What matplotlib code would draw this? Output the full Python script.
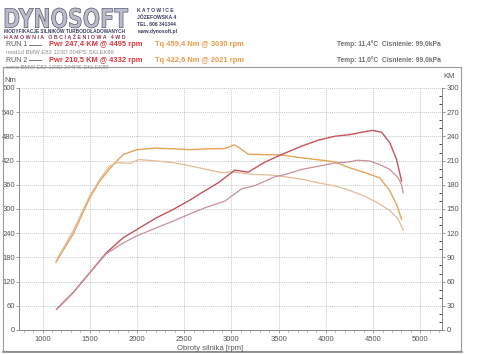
import matplotlib

matplotlib.use("Agg")
import matplotlib.pyplot as plt
from matplotlib.patches import PathPatch, Rectangle
from matplotlib.textpath import TextPath
from matplotlib.font_manager import FontProperties
from matplotlib.transforms import Affine2D
from matplotlib.lines import Line2D

# RUN 1 (mod1d) torque [Nm] and power [KM]
run1_tq_rpm = [1141, 1324, 1500, 1607, 1748, 1854, 1995, 2207, 2400, 2560, 2719, 2930,
               3030, 3089, 3177, 3319, 3531, 3707, 3919, 4095, 4254, 4431, 4572, 4678,
               4749, 4802]
run1_tq = [168, 238, 328, 370, 410, 435, 447, 451, 449, 447, 449, 450,
           459, 451, 436, 435, 434, 428, 422, 417, 402, 389, 377, 345,
           311, 275]
run1_pw_rpm = [1148, 1324, 1500, 1677, 1854, 2030, 2207, 2383, 2560, 2684, 2860, 3036,
               3177, 3354, 3531, 3743, 3919, 4095, 4254, 4395, 4495, 4590, 4678, 4749,
               4802]
run1_pw = [25.7, 46.4, 71.1, 95.9, 114.4, 126.8, 139.2, 149.4, 161.1, 170.1, 182.5, 198.2,
           195.7, 208.1, 217.5, 227.9, 235.3, 240.2, 242.2, 245.5, 247.4, 245.2, 231.9, 211.3,
           184.6]

# RUN 2 (seria)
run2_tq_rpm = [1155, 1324, 1500, 1607, 1713, 1800, 1924, 2021, 2207, 2383, 2560, 2719,
               2896, 3001, 3213, 3425, 3566, 3743, 3919, 4095, 4219, 4395, 4537, 4678,
               4766, 4819]
run2_tq = [177, 246, 333, 374, 407, 415, 413, 422.6, 419, 415, 407, 399,
           390, 392, 386, 384, 380, 374, 365, 357, 349, 333, 317, 296,
           275, 247]
run2_pw_rpm = [1148, 1324, 1500, 1677, 1748, 1854, 1995, 2207, 2383, 2560, 2719, 2930,
               3107, 3248, 3460, 3566, 3743, 3919, 4095, 4254, 4332, 4466, 4572, 4678,
               4766, 4802, 4819]
run2_pw = [25.7, 46.4, 71.0, 95.0, 100, 108, 116.5, 126.8, 135, 144, 151.5, 159.8,
           175, 179, 190, 192.7, 199, 203, 207, 208.5, 210.5, 209.5, 205, 199,
           188.6, 180, 170]

W, H = 500, 354
C_PW1, C_PW2 = "#c4545a", "#c99098"
C_TQ1, C_TQ2 = "#e8a35a", "#e2bb98"
FONT = "Liberation Sans"


def fx(x):
    return x / W


def fy(y):
    return 1 - y / H


fig = plt.figure(figsize=(W / 100, H / 100), dpi=100)
fig.patch.set_facecolor("white")

ax = fig.add_axes([fx(19), fy(330), (442 - 19) / W, (330 - 88) / H])
ax2 = ax.twinx()

ax.plot(run1_tq_rpm, run1_tq, color=C_TQ1, lw=1.0)
ax.plot(run2_tq_rpm, run2_tq, color=C_TQ2, lw=0.9)
ax2.plot(run1_pw_rpm, run1_pw, color=C_PW1, lw=1.0)
ax2.plot(run2_pw_rpm, run2_pw, color=C_PW2, lw=0.9)

ax.set_xlim(750, 5230)
ax.set_ylim(0, 600)
ax2.set_ylim(0, 300)
ax.set_xticks(range(1000, 5001, 500))
ax.set_xticks(range(800, 5201, 100), minor=True)
ax.set_yticks(range(0, 601, 60))
ax2.set_yticks(range(0, 301, 30))
ax2.set_yticks(range(0, 301, 10), minor=True)
ax.grid(True, color="#b0b0b0", ls=(0, (1.5, 1.5)), lw=0.5)

for a in (ax, ax2):
    for s in a.spines.values():
        s.set_color("#8c8c8c")
        s.set_linewidth(0.7)
    a.spines["top"].set_visible(False)
    a.tick_params(colors="#8c8c8c", labelcolor="#555555", labelsize=5.5, length=2.5, width=0.6)
    for lab in a.get_xticklabels() + a.get_yticklabels():
        lab.set_family(FONT)
ax.tick_params(which="minor", length=1.5, width=0.5, colors="#8c8c8c")
ax.tick_params(axis="x", pad=1.5)
ax.tick_params(axis="y", pad=0.5)
ax2.tick_params(axis="y", pad=1)
ax2.tick_params(which="minor", direction="in", length=2, width=0.5)

# panel frame
fig.add_artist(Rectangle((fx(3), fy(351)), (461 - 3) / W, (351 - 67) / H, transform=fig.transFigure,
                         fill=False, ec="#9a9a9a", lw=0.8))
fig.add_artist(Line2D([fx(3), fx(462)], [fy(352), fy(352)], transform=fig.transFigure,
                      color="#8a8a8a", lw=1.2))

fig.text(fx(210), fy(348), "Obroty silnika [rpm]", fontsize=5.5, color="#555555",
         family=FONT, ha="center", va="center")
fig.text(fx(4), fy(81), "Nm", fontsize=5.5, color="#555555", family=FONT, va="center")
fig.text(fx(443), fy(77), "KM", fontsize=5.5, color="#555555", family=FONT, va="center")

# logo
tp = TextPath((0, 0), "DYNOSOFT", size=1, prop=FontProperties(family="DejaVu Sans", weight="bold"))
ext = tp.get_extents()
sx = 123 / ext.width
sy = 20 / ext.height
tr = Affine2D().translate(-ext.x0, -ext.y0).scale(sx / W, sy / H).translate(fx(5), fy(28)) + fig.transFigure
fig.add_artist(PathPatch(tp, transform=tr, fc="#b8bccb", ec="#4a4e64", lw=0.45))

fig.text(fx(4), fy(31.5), "MODYFIKACJE SILNIKÓW TURBODOŁADOWANYCH", fontsize=3.45, weight="bold",
         color="#3a3d66", family=FONT, va="center")
fig.text(fx(4), fy(37.5), "H A M O W N I A   O B C I Ą Ż E N I O W A   4 W D", fontsize=3.75,
         weight="bold", color="#8a3a55", family=FONT, va="center")
for i, t in enumerate(["K A T O W I C E", "JÓZEFOWSKA 4", "TEL. 606 341344", "www.dynosoft.pl"]):
    fig.text(fx(137), fy(10 + i * 7.2), t, fontsize=3.6, weight="bold", color="#3a3d66",
             family=FONT, va="center")

# run headers
rows = [
    (44.5, "RUN 1", "Pwr 247,4 KM @ 4495 rpm", "Tq 459,4 Nm @ 3030 rpm",
     "mod1d BMW E82 123D 204PS SKLEK89", "Temp: 11,4°C  Cisnienie: 99,0kPa"),
    (60, "RUN 2", "Pwr 210,5 KM @ 4332 rpm", "Tq 422,6 Nm @ 2021 rpm",
     "seria BMW E82 123D 204PS SKLEK89", "Temp: 11,0°C  Cisnienie: 99,0kPa"),
]
for y, run, pwr, tq, desc, temp in rows:
    fig.text(fx(6), fy(y), run, fontsize=5, color="#555555", family=FONT, va="center")
    fig.add_artist(Line2D([fx(29), fx(41)], [fy(y), fy(y)], transform=fig.transFigure,
                          color="#777777", lw=0.7))
    fig.text(fx(49), fy(y), pwr, fontsize=5.4, weight="bold", color="#d9363a", family=FONT, va="center")
    fig.text(fx(155), fy(y), tq, fontsize=5.4, weight="bold", color="#e89a48", family=FONT, va="center")
    fig.text(fx(6), fy(y + 7.5), desc, fontsize=4.2, color="#8f8f8f", family=FONT, va="center")
    fig.text(fx(337), fy(y), temp, fontsize=4.8, weight="bold", color="#707070", family=FONT, va="center")

fig.savefig("out.png", dpi=100)
plt.close(fig)
